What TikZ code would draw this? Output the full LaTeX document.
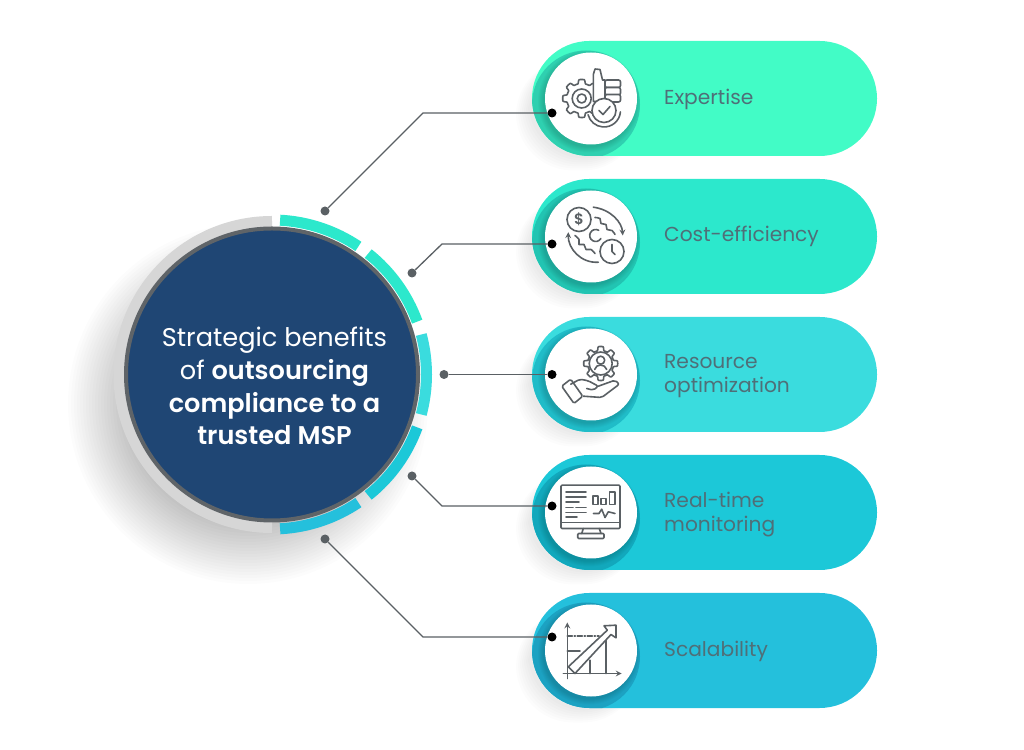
\documentclass[tikz,border=0pt]{standalone}
\usepackage{fontspec}
\setmainfont{Poppins}[BoldFont={Poppins SemiBold}]
\definecolor{navy}{HTML}{1F4674}
\definecolor{rim}{HTML}{5F6468}
\definecolor{halo}{HTML}{D6D6D6}
\definecolor{ink}{HTML}{5A6064}
\definecolor{labelink}{HTML}{4F6F78}
\definecolor{pillA}{HTML}{42FCC6}
\definecolor{pillB}{HTML}{2CE8CC}
\definecolor{pillC}{HTML}{3ADCDE}
\definecolor{pillD}{HTML}{1CC8D8}
\definecolor{pillE}{HTML}{24C0DC}
\definecolor{darkA}{HTML}{2FD0B0}
\definecolor{darkB}{HTML}{22C4B2}
\definecolor{darkC}{HTML}{20BCC8}
\definecolor{darkD}{HTML}{12A8BC}
\definecolor{darkE}{HTML}{1CA2C2}
\tikzset{
  disc/.style={circle,fill=white,minimum size=92pt,inner sep=0pt},
  pilltext/.style={anchor=west,align=left,inner sep=0pt,text=labelink,font=\fontsize{20.2}{24}\selectfont},
  icon/.style={draw=ink,line width=1.6pt,line join=round,line cap=round},
  wire/.style={draw=ink,line width=1.3pt},
  enddot/.style={circle,fill=black,minimum size=9pt,inner sep=0pt},
  startdot/.style={circle,fill=ink,minimum size=9pt,inner sep=0pt},
}
\newcommand{\gearicon}[3]{% centre, base radius, tooth height
  \draw[icon,fill=white,shift={(#1)}] plot[domain=0:360,samples=145] (\x:{#2+#3*max(-1,min(1,3*cos(8*\x)))}) -- cycle;
}
\begin{document}
\begin{tikzpicture}[x=1pt,y=1pt]
  \useasboundingbox (0,0) rectangle (1024,749);
  \fill[white] (0,0) rectangle (1024,749);

  \foreach \r in {120,123,...,180}
    \fill[black,opacity=.011] (248,345) circle (\r); %soft shadow
  \foreach \y/\pill/\dark in {650.5/pillA/darkA,512.5/pillB/darkB,374.5/pillC/darkC,236.5/pillD/darkD,98.5/pillE/darkE}{
    \foreach \g in {0,2,...,12}
      \fill[black,opacity=.01,rounded corners=57pt] (528-\g,\y-60-\g) rectangle (640,\y+40);
    \fill[\pill,rounded corners=57.5pt] (532,\y-57.5) rectangle (877,\y+57.5);
    \begin{scope}
      \clip[rounded corners=57.5pt] (532,\y-57.5) rectangle (877,\y+57.5);
      \fill[\dark] (586,\y-6) circle (54);
    \end{scope}
    \foreach \g in {0,1,...,5}
      \fill[black,opacity=.025] (589,\y-3) circle (46+\g);
  }

  \draw[halo,line width=11pt] (272,527.5) arc [start angle=90, end angle=270, radius=153];
  \foreach \a/\b/\col in {87/56/pillB,51.5/20/pillB,15/-15/pillC,-20/-51.5/pillD,-56/-87/pillE}
    \draw[\col,line width=11pt] ([shift={(\a:154.5)}]272,374.5) arc [start angle=\a, end angle=\b, radius=154.5];
  \node[circle,fill=navy,draw=rim,line width=4pt,minimum size=292pt,inner sep=0pt] (hub) at (272,374.5) {};
  \node[text=white,align=center,font=\fontsize{25.6}{32.7}\selectfont] (title) at (274.5,363)
    {Strategic benefits\\of \textbf{outsourcing}\\\textbf{compliance to a}\\\textbf{trusted MSP}};

  \node[disc] (discA) at (591,650.5) {};
  \node[disc] (discB) at (591,512.5) {};
  \node[disc] (discC) at (591,374.5) {};
  \node[disc] (discD) at (591,236.5) {};
  \node[disc] (discE) at (591,98.5) {};

  \node[pilltext] (expertise) at (664,650) {Expertise};
  \node[pilltext] (cost) at (664,513) {Cost-efficiency};
  \node[pilltext] (resource) at (664,373) {Resource\\optimization};
  \node[pilltext] (monitoring) at (664,234) {Real-time\\monitoring};
  \node[pilltext] (scalability) at (664,98) {Scalability};

  %connectors
  \node[startdot] (startA) at (325,538) {};
  \node[startdot] (startB) at (412,476) {};
  \node[startdot] (startC) at (444,374.5) {};
  \node[startdot] (startD) at (412,273) {};
  \node[startdot] (startE) at (325,210) {};
  \node[enddot] (endA) at (552,636) {};
  \node[enddot] (endB) at (552,505) {};
  \node[enddot] (endC) at (552,374.5) {};
  \node[enddot] (endD) at (552,243) {};
  \node[enddot] (endE) at (552,112) {};
  \coordinate (bendA) at (423,636);
  \coordinate (bendB) at (442,505);
  \coordinate (bendD) at (442,243);
  \coordinate (bendE) at (423,112);
  \draw[wire] (startA) -- (bendA) -- (endA);
  \draw[wire] (startB) -- (bendB) -- (endB);
  \draw[wire] (startC) -- (endC);
  \draw[wire] (startD) -- (bendD) -- (endD);
  \draw[wire] (startE) -- (bendE) -- (endE);

  \begin{scope}[shift={(591,650.5)}] %expertise
    \gearicon{-9.3,0}{17}{2}
    \draw[icon] (-9.3,0) circle (9.5);
    \draw[icon] (-9.3,0) circle (4.5);
    \draw[icon,fill=white] (2.3,-3) -- (2.3,24) -- (4,29.5) -- (9,29) -- (11.5,18.5) -- (14,18.5) -- (14,-3) -- cycle;
    \foreach \t in {18.5,11,4}
      \draw[icon,fill=white,rounded corners=2pt] (14,\t) rectangle (29.5,\t-7.5);
    \draw[icon] ([shift={(-5:16.5)}]13,-12) arc [start angle=-5, end angle=-165, radius=16.5];
    \draw[icon,fill=white] (13,-12) circle (12);
    \draw[icon] (8,-12) -- (12,-16) -- (19,-8);
  \end{scope}

  \begin{scope}[shift={(591,512.5)}] %cost
    \draw[icon] (-12,17) circle (12);
    \node[text=ink,font=\fontsize{15}{15}\selectfont\bfseries,inner sep=0pt] (dollar) at (-12,17) {\$};
    \draw[icon] (21,-15) circle (12);
    \draw[icon] (21,-8) -- (21,-15) -- (24,-18);
    \draw[icon,-stealth] (2.3,29.3) .. controls (20,27) and (31,14) .. (31.7,1);
    \draw[icon,-stealth] (7.3,-25.7) .. controls (-10,-27) and (-23,-12) .. (-22.7,4.3);
    \draw[icon] plot[smooth] coordinates {(4,19) (9,18) (10,13) (15,12) (16,7) (21,6) (24,2)};
    \draw[icon] plot[smooth] coordinates {(-16,1) (-12,-3) (-12,-8) (-7,-8) (-5,-13) (0,-13) (4,-17)};
    \draw[icon] ([shift={(60:6)}]4.7,1) arc [start angle=60, end angle=330, radius=6];
  \end{scope}

  \begin{scope}[shift={(591,374.5)}] %resource
    \gearicon{9.7,11}{15}{2}
    \draw[icon] (9.7,11) circle (11.5);
    \draw[icon] (9.7,14.3) circle (4);
    \draw[icon] (3.7,5) .. controls (5,11) and (14,11) .. (15.7,5);
    \draw[icon,rounded corners=1.5pt] (-29.3,-11.7) -- (-20.3,-4.7) -- (-8.3,-21.7) -- (-17,-29) -- cycle;
    \draw[icon,rounded corners=2pt] (-20.3,-9.7) -- (-11,-4.7) -- (-2.7,-6.3) -- (7.3,-11.7) -- (2.3,-15.7) -- (-4.3,-14);
    \draw[icon,rounded corners=2pt] (7.3,-11.7) -- (24,-5.7) -- (28.3,-9.7) -- (10.7,-23) -- (-7.7,-21.7);
  \end{scope}

  \begin{scope}[shift={(591,236.5)}] %monitoring
    \draw[icon,rounded corners=1pt] (-30,27.3) rectangle (29,-16);
    \draw[icon] (-30,-10) -- (29,-10);
    \draw[icon] (-7.7,-16) -- (-9.3,-21);
    \draw[icon] (8.3,-16) -- (10,-21);
    \draw[icon,rounded corners=1pt] (-13.3,-21) rectangle (13,-26);
    \draw[icon] (-25,20.7) -- (-5,20.7);
    \draw[icon] (-25,15.7) -- (-5,15.7);
    \draw[icon] (-25,10.7) -- (-12,10.7);
    \draw[icon] (-25,5) -- (-18,5);
    \draw[icon] (-15,5) -- (-5,5);
    \draw[icon] (-25,0) -- (-5,0);
    \draw[icon] (-25,-4.5) -- (-14,-4.5);
    \draw[icon] (1.7,16.3) rectangle (6.7,8);
    \draw[icon] (10,14) rectangle (14.7,8);
    \draw[icon] (18.3,20.7) rectangle (24,8);
    \draw[icon] (2.3,-1) -- (8,-1) -- (10.7,3.3) -- (14,-5) -- (17.3,.7) -- (24,-1);
  \end{scope}

  \begin{scope}[shift={(591,98.5)}] %scalability
    \draw[icon,-stealth] (-23.7,-28) -- (-23.7,28);
    \draw[icon,-stealth] (-27.7,-23) -- (30.7,-23);
    \draw[icon,dash pattern=on 5pt off 2pt on 1pt off 2pt] (-23.7,14.7) -- (8,14.7);
    \draw[icon] (-23.7,-.7) -- (-11,-.7);
    \draw[icon] (-1,-9.7) -- (-1,-23);
    \draw[icon] (15,10) -- (15,-23);
    \draw[icon,fill=white] (-22.7,-16.3) -- (16.3,20.3) -- (13,24.7) -- (25,25.3) -- (25,12.7) -- (20,16) -- (-16,-23) -- cycle;
  \end{scope}
\end{tikzpicture}
\end{document}
